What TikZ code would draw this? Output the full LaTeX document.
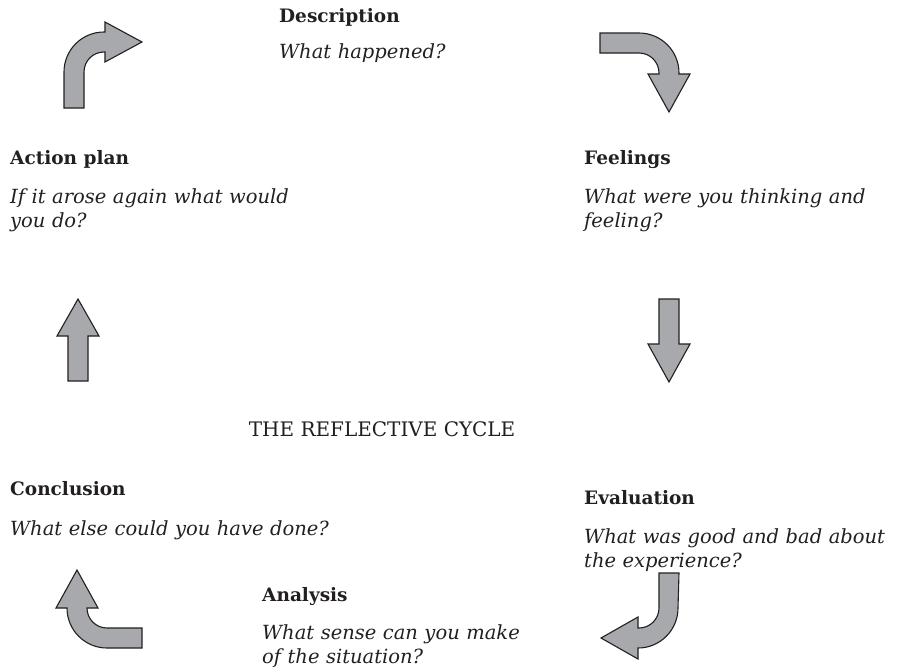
\documentclass[tikz,border=0pt]{standalone}
\usepackage{fontspec}
\setmainfont{DejaVu Serif}
\usepackage{tikz}
\usetikzlibrary{positioning}
\definecolor{arrowfill}{RGB}{167,169,172}
\definecolor{arrowline}{RGB}{35,31,32}
\definecolor{inkc}{RGB}{35,31,32}

\begin{document}
\begin{tikzpicture}[x=1pt, y=-1pt,
    head/.style={anchor=base west, inner sep=0pt, text=inkc,
      font=\fontsize{18.5}{24}\selectfont\bfseries},
    quest/.style={anchor=base west, inner sep=0pt, text=inkc, align=left,
      text width=320pt, font=\fontsize{19.5}{24}\selectfont\itshape},
    turn/.style={fill=arrowfill, draw=arrowline, line width=1.1pt, line join=miter}]
  \useasboundingbox (0,0) rectangle (903,667);
  % stages of the cycle
  \node[head] (desc) at (279,22) {Description};
  \node[quest] (descq) at (279,58) {What happened?};
  \node[head] (plan) at (10,164) {Action plan};
  \node[quest] (planq) at (10,203) {If it arose again what would\\you do?};
  \node[head] (feel) at (584,164) {Feelings};
  \node[quest] (feelq) at (584,203) {What were you thinking and\\feeling?};
  \node[anchor=base, inner sep=0pt, text=inkc, font=\fontsize{20}{24}\selectfont]
    (title) at (382,436) {THE REFLECTIVE CYCLE};
  \node[head] (concl) at (10,495) {Conclusion};
  \node[quest] (conclq) at (10,535) {What else could you have done?};
  \node[head] (eval) at (584,504) {Evaluation};
  \node[quest] (evalq) at (584,543) {What was good and bad about\\the experience?};
  \node[head] (anal) at (262,601) {Analysis};
  \node[quest] (analq) at (262,639) {What sense can you make\\of the situation?};
  % arrows between stages
  \draw[turn] (64,108) -- (64,72) arc[start angle=180, end angle=270, radius=40]
    -- (105,32) -- (105,22) -- (142,42) -- (105,62) -- (105,52) -- (104,52)
    arc[start angle=270, end angle=180, radius=20] -- (84,108) -- cycle;
  \draw[turn] (600,33) -- (639,33) arc[start angle=270, end angle=360, radius=40]
    -- (679,74) -- (690,74) -- (669,112) -- (648,74) -- (659,74) -- (659,73)
    arc[start angle=0, end angle=-90, radius=20] -- (600,53) -- cycle;
  \draw[turn] (68,381) -- (68,336) -- (57,336) -- (78,299) -- (99,336)
    -- (88,336) -- (88,381) -- cycle;
  \draw[turn] (659,299) -- (659,344) -- (648,344) -- (669,382) -- (690,344)
    -- (679,344) -- (679,299) -- cycle;
  \draw[turn] (142,628) -- (107,628) arc[start angle=90, end angle=180, radius=20]
    -- (98,608) -- (77,570) -- (56,608) -- (67,608)
    arc[start angle=180, end angle=90, radius=40] -- (142,648) -- cycle;
  \draw[turn] (659,573) -- (659,608) arc[start angle=0, end angle=90, radius=20]
    -- (638,628) -- (638,617) -- (601,638) -- (638,659) -- (638,648)
    arc[start angle=90, end angle=0, radius=40] -- (679,573) -- cycle;
\end{tikzpicture}
\end{document}
